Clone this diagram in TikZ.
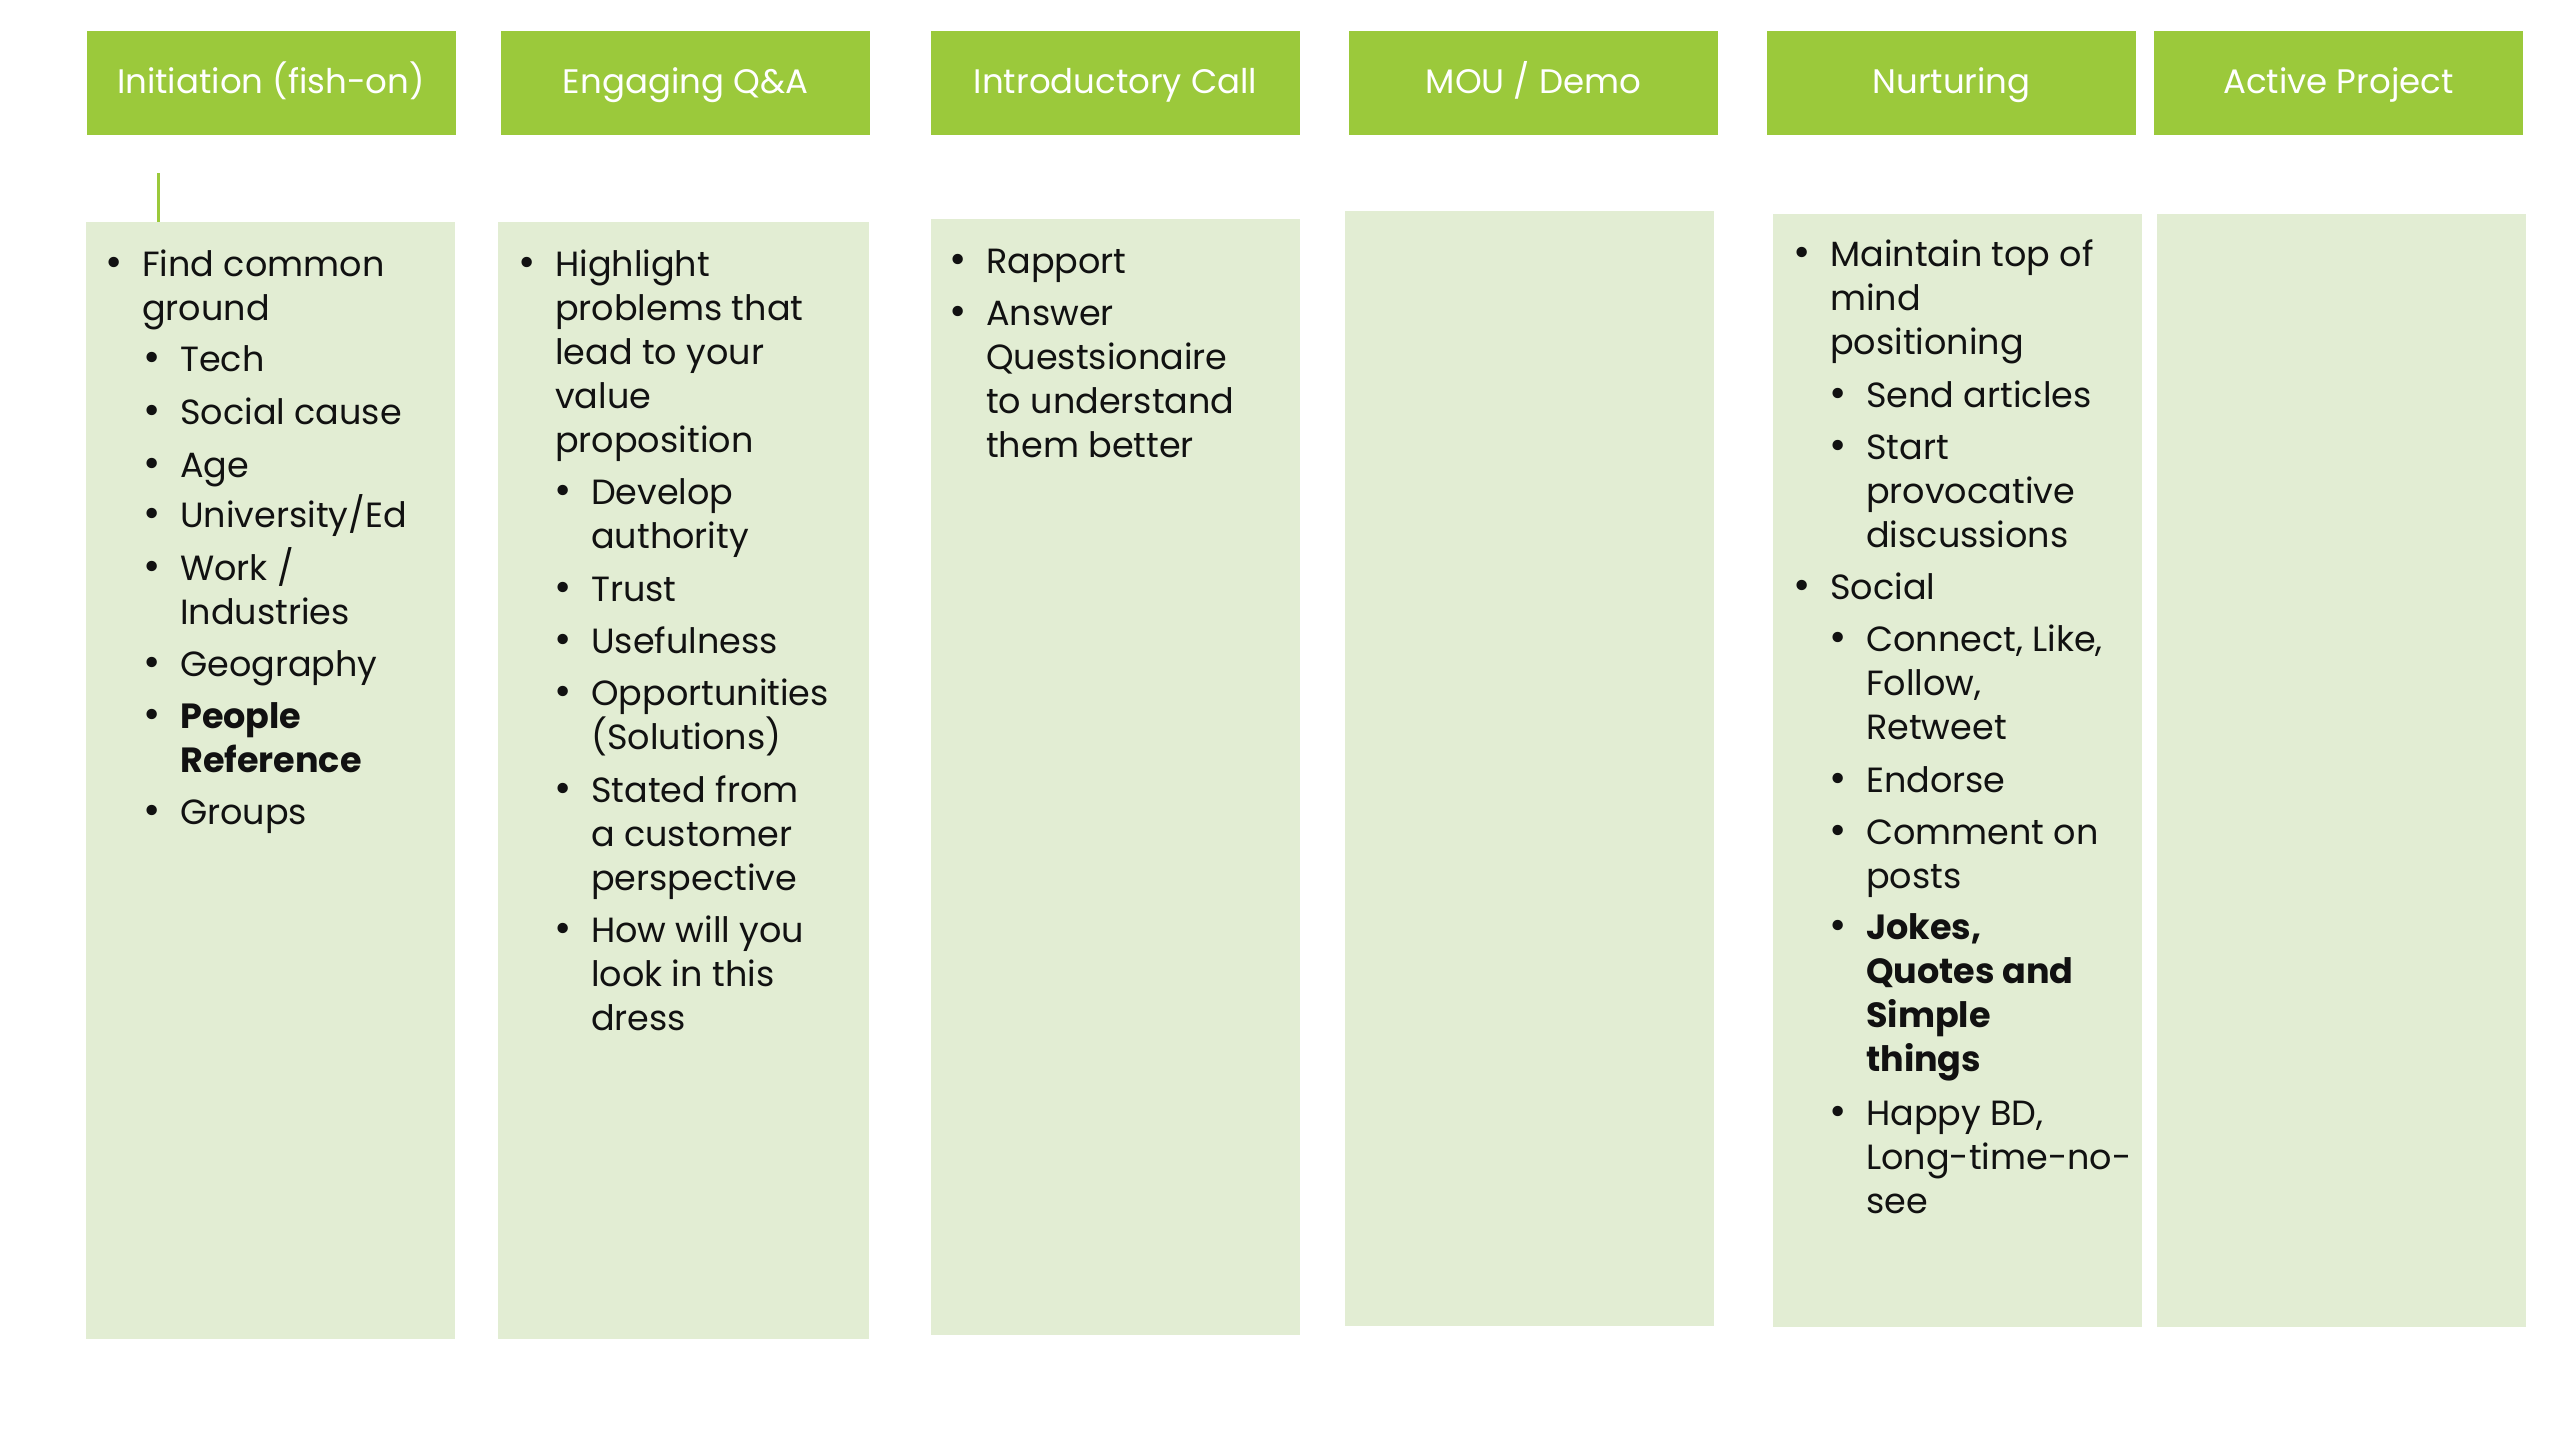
\documentclass[tikz,border=0pt]{standalone}
\usepackage{fontspec}
\setmainfont{Poppins}
\definecolor{hdrgreen}{HTML}{9BC93B}
\definecolor{bodygreen}{HTML}{E2EDD3}
\definecolor{txtblack}{HTML}{111111}
% name, x, first baseline y, number of lines, text
\newcommand\bitem[5]{%
  \node[bul] (#1b) at (#2-28,#3+3) {•};
  \node[itemtxt] (#1) at (#2,{#3+3+(#4-1)*44}) {#5};
}
\begin{document}
\begin{tikzpicture}[x=1pt,y=-1pt,
  hdr/.style={fill=hdrgreen,draw=none,minimum width=369pt,minimum height=104pt,inner sep=0pt,
    text height=25pt,text depth=5pt,
    text=white,font=\fontsize{34}{40}\selectfont},
  body/.style={fill=bodygreen,draw=none,inner sep=0pt},
  itemtxt/.style={anchor=base west,inner sep=0pt,align=left,text=txtblack,font=\fontsize{35}{44}\selectfont},
  bul/.style={anchor=base,inner sep=0pt,text=txtblack,font=\fontsize{42}{44}\selectfont},
  link/.style={draw=hdrgreen,line width=3pt}]
\useasboundingbox[fill=white] (0,0) rectangle (2560,1440);
% headers
\node[hdr] (h1) at (271,83) {Initiation (fish-on)};
\node[hdr] (h2) at (685.5,83) {Engaging Q\&A};
\node[hdr] (h3) at (1115.5,83) {Introductory Call};
\node[hdr] (h4) at (1533.5,83) {MOU / Demo};
\node[hdr] (h5) at (1951.5,83) {Nurturing};
\node[hdr] (h6) at (2338.5,83) {Active Project};
% body panels
\path[body] (86,222) rectangle (455,1339);
\path[body] (498,222) rectangle (869,1339);
\path[body] (931,219) rectangle (1300,1335);
\path[body] (1345,211) rectangle (1714,1326);
\path[body] (1773,214) rectangle (2142,1327);
\path[body] (2157,214) rectangle (2526,1327);
\coordinate (l1a) at (158,173);
\coordinate (l1b) at (158,222);
\draw[link] (l1a) -- (l1b);
% column 1
\bitem{a1}{142}{273}{2}{Find common\\ground}
\bitem{a2}{180}{368}{1}{Tech}
\bitem{a3}{180}{421}{1}{Social cause}
\bitem{a4}{180}{474}{1}{Age}
\bitem{a5}{180}{524}{1}{University/Ed}
\bitem{a6}{180}{577}{2}{Work /\\Industries}
\bitem{a7}{180}{673}{1}{Geography}
\bitem{a8}{180}{725}{2}{\textbf{People}\\\textbf{Reference}}
\bitem{a9}{180}{821}{1}{Groups}
% column 2
\bitem{b1}{555}{273}{5}{Highlight\\problems that\\lead to your\\value\\proposition}
\bitem{b2}{591}{501}{2}{Develop\\authority}
\bitem{b3}{591}{598}{1}{Trust}
\bitem{b4}{591}{650}{1}{Usefulness}
\bitem{b5}{591}{702}{2}{Opportunities\\(Solutions)}
\bitem{b6}{591}{799}{3}{Stated from\\a customer\\perspective}
\bitem{b7}{591}{939}{3}{How will you\\look in this\\dress}
% column 3
\bitem{c1}{986}{270}{1}{Rapport}
\bitem{c2}{986}{322}{4}{Answer\\Questsionaire\\to understand\\them better}
% column 5
\bitem{e1}{1830}{263}{3}{Maintain top of\\mind\\positioning}
\bitem{e2}{1866}{404}{1}{Send articles}
\bitem{e3}{1866}{456}{3}{Start\\provocative\\discussions}
\bitem{e4}{1830}{596}{1}{Social}
\bitem{e5}{1866}{648}{3}{Connect, Like,\\Follow,\\Retweet}
\bitem{e6}{1866}{789}{1}{Endorse}
\bitem{e7}{1866}{841}{2}{Comment on\\posts}
\bitem{e8}{1866}{936}{4}{\textbf{Jokes,}\\\textbf{Quotes and}\\\textbf{Simple}\\\textbf{things}}
\bitem{e9}{1866}{1122}{3}{Happy BD,\\Long-time-no-\\see}
\end{tikzpicture}
\end{document}
